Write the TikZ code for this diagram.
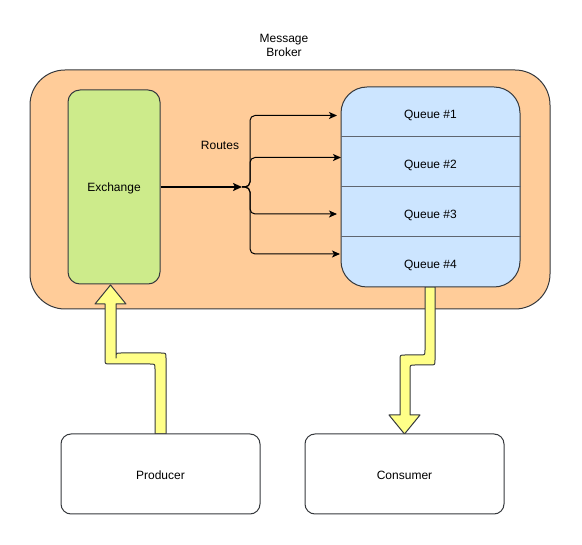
\documentclass[tikz,border=0pt]{standalone}
\usepackage{fontspec}
\setmainfont{Liberation Sans}
\usetikzlibrary{arrows.meta}
\definecolor{brokerfill}{HTML}{FFCC99}
\definecolor{exfill}{HTML}{CDEB8B}
\definecolor{qfill}{HTML}{CCE5FF}
\definecolor{flexfill}{HTML}{FFFF88}
\definecolor{edge}{HTML}{36393D}
\definecolor{divcol}{HTML}{5F6670}
\tikzset{
  txt/.style={font=\fontsize{12}{14.4}\selectfont, text=black},
  box/.style={draw=edge, line width=1pt, txt, inner sep=0pt},
  flex/.style={draw=edge, fill=flexfill, line width=1pt, line join=round},
  mainarrow/.style={draw=black, line width=2pt, -{Stealth[length=9pt,width=8pt,inset=2pt]}},
  branch/.style={draw=black, line width=1pt, rounded corners=5pt, -{Stealth[length=8pt,width=7pt,inset=2pt]}},
  divider/.style={draw=divcol, line width=1pt},
  cell/.style={txt, minimum width=179pt, minimum height=50pt, inner sep=0pt},
}
\begin{document}
\begin{tikzpicture}[x=1pt,y=-1pt]
\useasboundingbox (0,0) rectangle (582,545);
% broker
\node[box, fill=brokerfill, rounded corners=35pt, minimum width=520pt, minimum height=239pt] (broker) at (290,189.5) {};
\node[txt, align=center] (brokerlabel) at (284,45.5) {Message\\Broker};
% flex arrows
\filldraw[flex] (155,434) -- (155,369) .. controls (155,364) .. (150,364) -- (110,364) .. controls (105,364) .. (105,359) -- (105,304) -- (95,304) -- (110.5,285) -- (126,304) -- (116,304) -- (116,358) .. controls (116,353) .. (121,353) -- (161,353) .. controls (166,353) .. (166,358) -- (166,434) -- cycle;
\filldraw[flex] (425,287) -- (425,350) .. controls (425,355) .. (420,355) -- (405,355) .. controls (400,355) .. (400,360) -- (400,415) -- (389,415) -- (404.5,434) -- (420,415) -- (410,415) -- (410,370) .. controls (410,365) .. (415,365) -- (430,365) .. controls (435,365) .. (435,360) -- (435,287) -- cycle;
% exchange
\node[box, fill=exfill, rounded corners=12pt, minimum width=92pt, minimum height=194pt] (exchange) at (114,187) {};
\node[txt] (extext) at (114,188) {Exchange};
% queue
\node[box, fill=qfill, rounded corners=26pt, minimum width=179pt, minimum height=200pt] (queue) at (430.5,187) {};
\node[cell] (q1) at (430.5,115.5) {Queue \#1};
\node[cell] (q2) at (430.5,165.5) {Queue \#2};
\node[cell] (q3) at (430.5,215.5) {Queue \#3};
\node[cell] (q4) at (430.5,265) {Queue \#4};
\draw[divider] ([yshift=-50pt]queue.north west) -- ([yshift=-50pt]queue.north east);
\draw[divider] ([yshift=-100pt]queue.north west) -- ([yshift=-100pt]queue.north east);
\draw[divider] ([yshift=-150pt]queue.north west) -- ([yshift=-150pt]queue.north east);
% routes
\node[txt] (routes) at (220,145) {Routes};
\coordinate (j) at (242,187);
\coordinate (bx) at (250,187);
\coordinate (t1) at (337,115.5);
\coordinate (t2) at (341,157.5);
\coordinate (t3) at (337,214);
\coordinate (t4) at (340,254);
\draw[mainarrow] (exchange.east) -- (j);
\draw[branch] (j) -- (bx) |- (t1);
\draw[branch] (j) -- (bx) |- (t2);
\draw[branch] (j) -- (bx) |- (t3);
\draw[branch] (j) -- (bx) |- (t4);
% producer / consumer
\node[box, fill=white, rounded corners=10pt, minimum width=199pt, minimum height=80pt] (producer) at (160.5,474) {};
\node[txt] (prodtext) at (160.5,475) {Producer};
\node[box, fill=white, rounded corners=10pt, minimum width=199pt, minimum height=80pt] (consumer) at (404.5,474) {};
\node[txt] (constext) at (404.5,475) {Consumer};
\end{tikzpicture}
\end{document}
